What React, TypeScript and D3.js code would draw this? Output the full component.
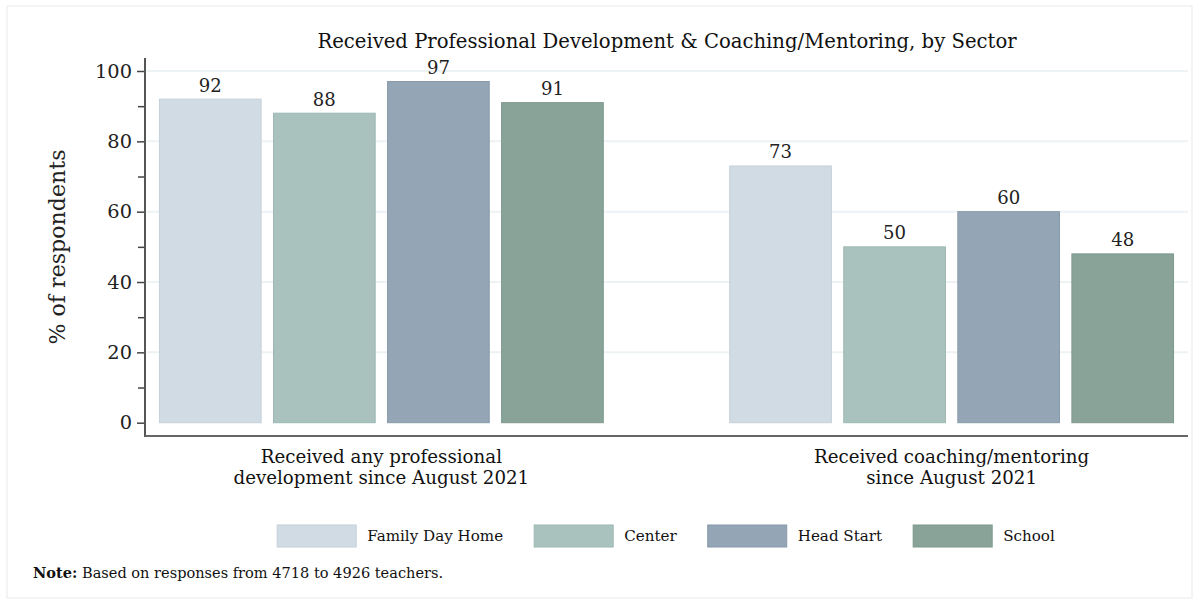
import React, { useEffect, useRef } from 'react';
import * as d3 from 'd3';

const categories = ["pd", "coach"];
const categoryLines = [
  ["Received any professional", "development since August 2021"],
  ["Received coaching/mentoring", "since August 2021"],
];
const sectors = ["Family Day Home", "Center", "Head Start", "School"];
const familyDayHome = [92, 73];
const center = [88, 50];
const headStart = [97, 60];
const school = [91, 48];
const seriesValues = [familyDayHome, center, headStart, school];
const yTicks = [0, 20, 40, 60, 80, 100];
const yMinorTicks = [10, 30, 50, 70, 90];
const sectorColors = ["#d1dbe3", "#a9c2bd", "#94a6b5", "#89a398"];
const sectorStrokes = ["#c4d0da", "#9cb7b1", "#8899aa", "#7d988c"];
const titleText = "Received Professional Development & Coaching/Mentoring, by Sector";
const yLabelText = "% of respondents";
const noteBold = "Note:";
const noteRest = " Based on responses from 4718 to 4926 teachers.";

const W = 1199;
const H = 602;
const FONT = "'DejaVu Serif', 'Liberation Serif', serif";

export default function App() {
  const ref = useRef<SVGSVGElement | null>(null);

  useEffect(() => {
    const svg = d3.select(ref.current);
    svg.selectAll('*').remove();

    const measure = (txt: string, weight = 'normal') => {
      const t = svg.append('text').attr('font-family', FONT).attr('font-size', 100)
        .attr('font-weight', weight).text(txt);
      const w = (t.node() as SVGTextElement).getComputedTextLength();
      t.remove();
      return w / 100;
    };
    const fit = (txt: string, target: number, weight = 'normal') => target / measure(txt, weight);

    svg.append('rect').attr('x', 7).attr('y', 6).attr('width', W - 14).attr('height', H - 10)
      .attr('fill', '#fff').attr('stroke', '#f1f1f1').attr('stroke-width', 1.5);

    const left = 145, right = 1188, top = 58, axisY = 436;
    const y = d3.scaleLinear().domain([0, 100]).range([422.7, 71]);
    const x0 = d3.scaleBand<string>().domain(categories).range([left, right])
      .paddingInner(0.22).paddingOuter(0.0245);
    const x1 = d3.scaleBand<string>().domain(sectors).range([0, x0.bandwidth()]).paddingInner(0.1);

    // gridlines
    svg.append('g').selectAll('line').data(yTicks.filter(d => d > 0)).join('line')
      .attr('x1', left + 2).attr('x2', right)
      .attr('y1', d => y(d)).attr('y2', d => y(d))
      .attr('stroke', '#edf2f4').attr('stroke-width', 2);

    // bars
    const gBars = svg.append('g');
    categories.forEach((c, ci) => {
      sectors.forEach((s, si) => {
        const v = seriesValues[si][ci];
        gBars.append('rect')
          .attr('x', (x0(c) as number) + (x1(s) as number) + 0.5)
          .attr('y', y(v))
          .attr('width', x1.bandwidth() - 1)
          .attr('height', y(0) - y(v))
          .attr('fill', sectorColors[si])
          .attr('stroke', sectorStrokes[si]).attr('stroke-width', 1);
      });
    });

    // value labels
    const valSize = fit('92', 23);
    categories.forEach((c, ci) => {
      sectors.forEach((s, si) => {
        const v = seriesValues[si][ci];
        svg.append('text')
          .attr('x', (x0(c) as number) + (x1(s) as number) + x1.bandwidth() / 2)
          .attr('y', y(v) - 14)
          .attr('text-anchor', 'middle').attr('dominant-baseline', 'central')
          .attr('font-family', FONT).attr('font-size', valSize).attr('fill', '#222')
          .text(String(v));
      });
    });

    // axes
    const tickSize = fit('100', 37);
    const yAxis = d3.axisLeft(y).tickValues(yTicks).tickSize(8).tickPadding(5)
      .tickFormat(d3.format('d') as any);
    const ga = svg.append('g').attr('transform', `translate(${left},0)`).call(yAxis);
    ga.select('.domain').remove();
    ga.selectAll('line').attr('stroke', '#444').attr('stroke-width', 1.5);
    ga.selectAll('text').attr('font-family', FONT).attr('font-size', tickSize).attr('fill', '#222');
    const gm = svg.append('g').attr('transform', `translate(${left},0)`)
      .call(d3.axisLeft(y).tickValues(yMinorTicks).tickSize(7).tickFormat(() => ''));
    gm.select('.domain').remove();
    gm.selectAll('line').attr('stroke', '#444').attr('stroke-width', 1.5);

    svg.append('line').attr('x1', left).attr('x2', left).attr('y1', top).attr('y2', axisY + 1)
      .attr('stroke', '#555').attr('stroke-width', 2);
    svg.append('line').attr('x1', left).attr('x2', right).attr('y1', axisY).attr('y2', axisY)
      .attr('stroke', '#666').attr('stroke-width', 2);

    // title
    svg.append('text').attr('x', 667).attr('y', 41)
      .attr('text-anchor', 'middle').attr('dominant-baseline', 'central')
      .attr('font-family', FONT).attr('font-size', fit(titleText, 700)).attr('fill', '#111')
      .text(titleText);

    // y label
    svg.append('text').attr('x', 57).attr('y', 247)
      .attr('transform', 'rotate(-90,57,247)')
      .attr('text-anchor', 'middle').attr('dominant-baseline', 'central')
      .attr('font-family', FONT).attr('font-size', fit(yLabelText, 195)).attr('fill', '#222')
      .text(yLabelText);

    // category labels
    const catSize = fit(categoryLines[0][1], 296);
    categories.forEach((c, ci) => {
      const cx = (x0(c) as number) + x0.bandwidth() / 2;
      categoryLines[ci].forEach((ln, li) => {
        svg.append('text').attr('x', cx).attr('y', 456 + li * 21)
          .attr('text-anchor', 'middle').attr('dominant-baseline', 'central')
          .attr('font-family', FONT).attr('font-size', catSize).attr('fill', '#111')
          .text(ln);
      });
    });

    // legend
    const legSize = fit(sectors[0], 136);
    const swW = 79, swH = 22, gapT = 11, gapItem = 31;
    const widths = sectors.map(s => measure(s) * legSize);
    const total = d3.sum(widths) + sectors.length * (swW + gapT) + (sectors.length - 1) * gapItem;
    let lx = 666 - total / 2;
    sectors.forEach((s, i) => {
      svg.append('rect').attr('x', lx).attr('y', 525).attr('width', swW).attr('height', swH)
        .attr('fill', sectorColors[i]).attr('stroke', sectorStrokes[i]).attr('stroke-width', 1);
      svg.append('text').attr('x', lx + swW + gapT).attr('y', 536)
        .attr('dominant-baseline', 'central')
        .attr('font-family', FONT).attr('font-size', legSize).attr('fill', '#111')
        .text(s);
      lx += swW + gapT + widths[i] + gapItem;
    });

    // note
    const noteSize = fit(noteBold + noteRest, 407);
    const note = svg.append('text').attr('x', 33).attr('y', 572)
      .attr('dominant-baseline', 'central')
      .attr('font-family', FONT).attr('font-size', noteSize).attr('fill', '#111');
    note.append('tspan').attr('font-weight', 'bold').text(noteBold);
    note.append('tspan').text(noteRest);
  }, []);

  return (
    <svg ref={ref} width={W} height={H}
      style={{ position: 'absolute', left: 0, top: 0, background: '#fff' }} />
  );
}
